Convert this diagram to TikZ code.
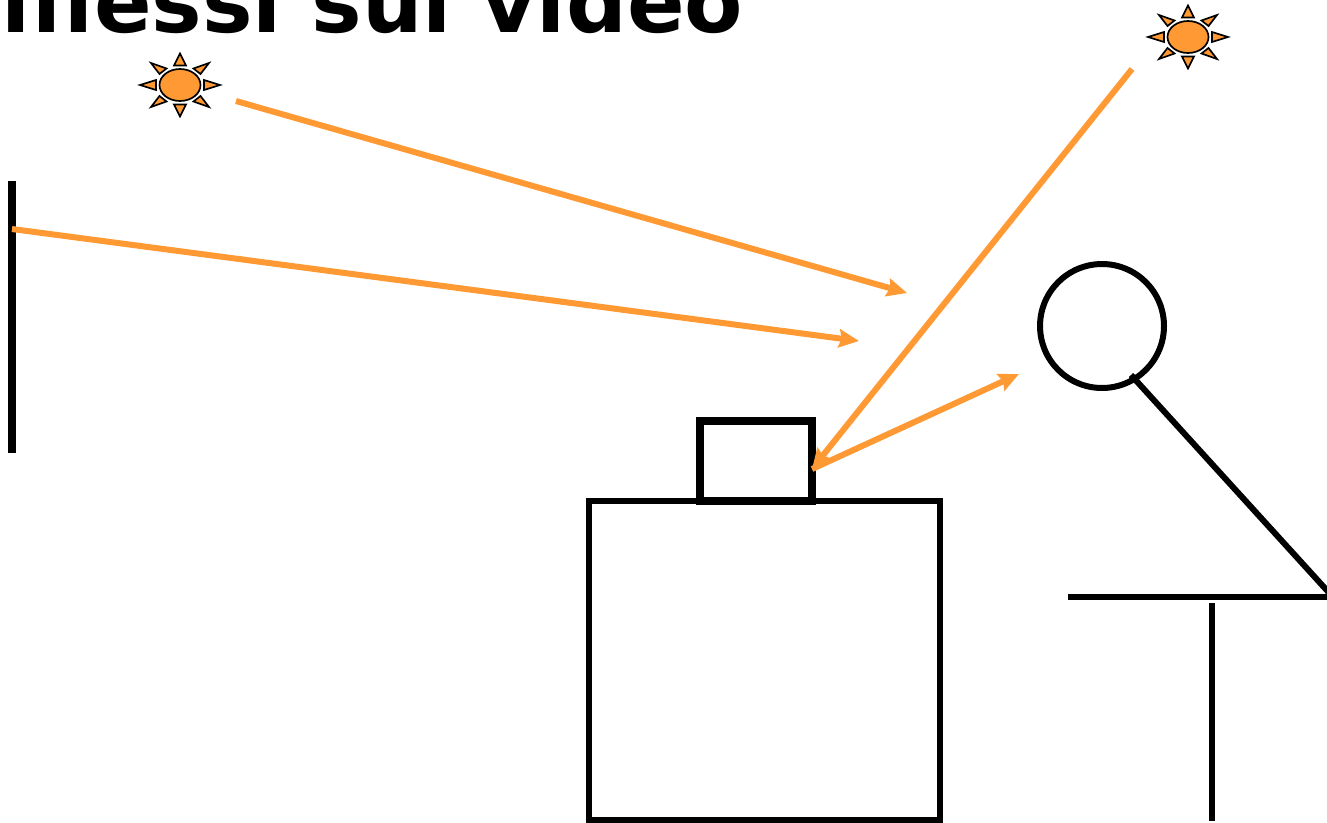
\documentclass[tikz,border=0pt]{standalone}
\usepackage{fontspec}
\setsansfont{DejaVu Sans}
\usepackage{xcolor}
\usepackage{tikz}
\usetikzlibrary{arrows.meta, positioning, calc}
\definecolor{rayorange}{HTML}{FF9933}

\tikzset{
    sunicon/.pic={
        \foreach \apex/\basea/\baseb in {
            {0,-31.5}/{-6,-19.5}/{6,-19.5}, {0,31.5}/{-6,19.5}/{6,19.5},
            {40,0}/{24,-5}/{24,5}, {-40,0}/{-24,-5}/{-24,5},
            {29,-22}/{13.5,-16.5}/{20.5,-11}, {-29,-22}/{-13.5,-16.5}/{-20.5,-11},
            {29,22}/{13.5,16.5}/{20.5,11}, {-29,22}/{-13.5,16.5}/{-20.5,11}}
            \draw[fill=rayorange, line width=0.95pt, line join=miter]
                (\apex) -- (\basea) -- (\baseb) -- cycle;
        \draw[fill=rayorange, line width=0.95pt] (0,0) ellipse [x radius=20.5, y radius=16];
    },
}

\begin{document}
\begin{tikzpicture}[
    x=0.02cm, y=-0.02cm,
    font=\sffamily,
    ray/.style={-{Stealth[length=0.4cm, width=0.36cm, inset=0.05cm]}, draw=rayorange, line width=0.12cm},
    outline/.style={draw=black, line width=#1, inner sep=0pt, outer sep=0pt},
    stroke/.style={draw=black, line width=#1},
]
    \useasboundingbox (0,0) rectangle (1327,822);

    % Title
    \node[anchor=base west, inner sep=0pt, font=\sffamily\bfseries\fontsize{48.4}{58}\selectfont] (title)
        at (-64,32) {Riflessi sul video};

    % Light sources
    \pic at (180,85) {sunicon};
    \pic at (1188,37) {sunicon};

    % Wall
    \coordinate (walltop) at (12,181);
    \coordinate (wallbottom) at (12,453);
    \draw[stroke=0.16cm] (walltop) -- (wallbottom);

    % Screen
    \node[outline=0.12cm, rectangle, minimum width=7.02cm, minimum height=6.38cm] (monitor) at (764.5,660.5) {};
    \node[outline=0.16cm, rectangle, minimum width=2.24cm, minimum height=1.6cm] (camera) at (756,461) {};

    % Viewer
    \node[outline=0.12cm, circle, minimum size=2.48cm] (head) at (1102,326) {};
    \coordinate (neck) at (1131,375);
    \coordinate (seatedge) at (1332,596);
    \coordinate (seatleft) at (1068,597);
    \coordinate (seatright) at (1332,597);
    \coordinate (legtop) at (1212,603);
    \coordinate (legbottom) at (1212,821);
    \draw[stroke=0.12cm] (neck) -- (seatedge);
    \draw[stroke=0.12cm] (seatleft) -- (seatright);
    \draw[stroke=0.12cm] (legtop) -- (legbottom);

    % Reflections
    \coordinate (sunleftray) at (236,101);
    \coordinate (sunrightray) at (1132,69);
    \coordinate (wallray) at (12,229);
    \coordinate (hitscreen) at (812,469);
    \coordinate (endsun) at (907,293);
    \coordinate (endwall) at (859,341);
    \coordinate (endeye) at (1019,374);
    \draw[ray] (sunleftray) -- (endsun);
    \draw[ray] (wallray) -- (endwall);
    \draw[ray] (sunrightray) -- (hitscreen);
    \draw[ray] (hitscreen) -- (endeye);
\end{tikzpicture}
\end{document}
